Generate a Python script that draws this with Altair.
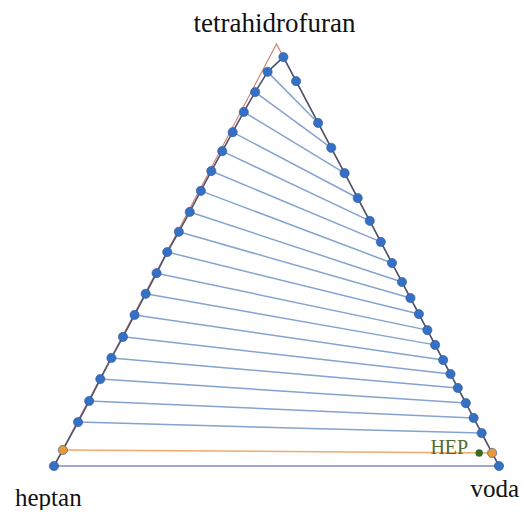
import altair as alt
import pandas as pd

# Ternary compositions (mass fractions)
# heptane-rich phase (left branch), water-rich phase (right branch); tie line i joins left[i] and right[i]
left_thf = [0.000, 0.038, 0.104, 0.154, 0.206, 0.256, 0.306, 0.358, 0.408, 0.457,
            0.507, 0.555, 0.602, 0.652, 0.699, 0.746, 0.791, 0.839, 0.886, 0.934]
left_water = [0.000, 0.001, 0.002, 0.002, 0.001, 0.001, 0.002, 0.002, 0.002, 0.002,
              0.001, 0.003, 0.004, 0.004, 0.004, 0.005, 0.006, 0.007, 0.009, 0.013]
right_thf = [0.000, 0.031, 0.078, 0.114, 0.149, 0.185, 0.218, 0.251, 0.287, 0.322,
             0.360, 0.398, 0.436, 0.481, 0.531, 0.581, 0.635, 0.694, 0.754, 0.813]
right_water = [1.000, 0.969, 0.922, 0.886, 0.851, 0.815, 0.782, 0.749, 0.713, 0.678,
               0.640, 0.602, 0.564, 0.519, 0.469, 0.419, 0.365, 0.306, 0.246, 0.187]
# extra binodal points without tie lines (upper right, plait point)
extra_thf = [0.912, 0.969]
extra_water = [0.088, 0.031]
# HEP point
hep_thf = [0.031]
hep_water = [0.940]
hep_label = ["HEP"]
# triangle vertices: heptan, tetrahidrofuran, voda
vertex_names = ["heptan", "tetrahidrofuran", "voda"]
vertex_thf = [0.0, 1.0, 0.0]
vertex_water = [0.0, 0.0, 1.0]
hep_tie_index = 1


def tx(thf, water):
    return water + thf / 2.0


# binodal curve: left branch upward, plait point, right branch downward
curve_rows = []
order = 0
for t, w in zip(left_thf, left_water):
    curve_rows.append({"o": order, "x": tx(t, w), "y": t}); order += 1
curve_rows.append({"o": order, "x": tx(extra_thf[1], extra_water[1]), "y": extra_thf[1]}); order += 1
curve_rows.append({"o": order, "x": tx(extra_thf[0], extra_water[0]), "y": extra_thf[0]}); order += 1
for t, w in reversed(list(zip(right_thf, right_water))):
    curve_rows.append({"o": order, "x": tx(t, w), "y": t}); order += 1
curve_df = pd.DataFrame(curve_rows)

tie_rows = []
for i in range(len(left_thf)):
    kind = "hep" if i == hep_tie_index else "tie"
    tie_rows.append({"tie": i, "o": 0, "lkind": kind, "x": tx(left_thf[i], left_water[i]), "y": left_thf[i]})
    tie_rows.append({"tie": i, "o": 1, "lkind": kind, "x": tx(right_thf[i], right_water[i]), "y": right_thf[i]})
tie_df = pd.DataFrame(tie_rows)

pt_rows = []
for i in range(len(left_thf)):
    kind = "hep" if i == hep_tie_index else "tie"
    pt_rows.append({"pkind": kind, "x": tx(left_thf[i], left_water[i]), "y": left_thf[i]})
    pt_rows.append({"pkind": kind, "x": tx(right_thf[i], right_water[i]), "y": right_thf[i]})
for t, w in zip(extra_thf, extra_water):
    pt_rows.append({"pkind": "tie", "x": tx(t, w), "y": t})
pt_df = pd.DataFrame(pt_rows)

hep_df = pd.DataFrame({"x": [tx(t, w) for t, w in zip(hep_thf, hep_water)], "y": hep_thf, "label": hep_label})

tri_order = [0, 1, 2, 0]
tri_df = pd.DataFrame({
    "o": list(range(4)),
    "x": [tx(vertex_thf[k], vertex_water[k]) for k in tri_order],
    "y": [vertex_thf[k] for k in tri_order],
})
vert_df = pd.DataFrame({
    "name": vertex_names,
    "x": [tx(t, w) for t, w in zip(vertex_thf, vertex_water)],
    "y": vertex_thf,
})

xs = alt.Scale(domain=[-46 / 445, 466 / 445], nice=False, zero=False)
ys = alt.Scale(domain=[-44 / 422, 458 / 422], nice=False, zero=False)
X = alt.X("x:Q", scale=xs, axis=None)
Y = alt.Y("y:Q", scale=ys, axis=None)

tri = alt.Chart(tri_df).mark_line(color="#d27b6c", strokeWidth=1.1).encode(x=X, y=Y, order="o:Q")

ties = alt.Chart(tie_df).mark_line(strokeWidth=1.5).encode(
    x=X, y=Y, detail="tie:N", order="o:Q",
    stroke=alt.Stroke("lkind:N", scale=alt.Scale(domain=["tie", "hep"], range=["#84a3cf", "#f0aa6c"]), legend=None),
)

curve = alt.Chart(curve_df).mark_line(color="#4d5670", strokeWidth=1.6).encode(x=X, y=Y, order="o:Q")

pts = alt.Chart(pt_df).mark_circle(size=85, opacity=1, fillOpacity=1, stroke="#2b5593", strokeWidth=0.6).encode(
    x=X, y=Y,
    fill=alt.Fill("pkind:N", scale=alt.Scale(domain=["tie", "hep"], range=["#3570c4", "#e8993a"]), legend=None),
)

hep_pt = alt.Chart(hep_df).mark_circle(size=55, opacity=1, color="#3b6a25").encode(x=X, y=Y)
hep_txt = alt.Chart(hep_df).mark_text(
    align="right", baseline="alphabetic", dx=-11, dy=1,
    font="Liberation Serif", fontSize=20, color="#4e6b2f",
).encode(x=X, y=Y, text="label:N")

lab_font = dict(font="Liberation Serif", fontSize=25, color="#111111", baseline="alphabetic")
lab_top = alt.Chart(vert_df).transform_filter(alt.datum.name == "tetrahidrofuran").mark_text(
    align="center", dx=-2, dy=-12, font="Liberation Serif", fontSize=27, color="#111111",
    baseline="alphabetic").encode(x=X, y=Y, text="name:N")
lab_left = alt.Chart(vert_df).transform_filter(alt.datum.name == "heptan").mark_text(
    align="left", dx=-39, dy=40, **lab_font).encode(x=X, y=Y, text="name:N")
lab_right = alt.Chart(vert_df).transform_filter(alt.datum.name == "voda").mark_text(
    align="right", dx=20, dy=31, **lab_font).encode(x=X, y=Y, text="name:N")

chart = alt.layer(tri, ties, curve, pts, hep_pt, hep_txt, lab_top, lab_left, lab_right).resolve_scale(
    stroke="independent", fill="independent"
).properties(
    width=512, height=502,
    autosize=alt.AutoSizeParams(type="none"),
    padding=0,
    background="white",
).configure_view(strokeWidth=0)

chart.save("out.html", embed_options={"renderer": "svg", "actions": False})
